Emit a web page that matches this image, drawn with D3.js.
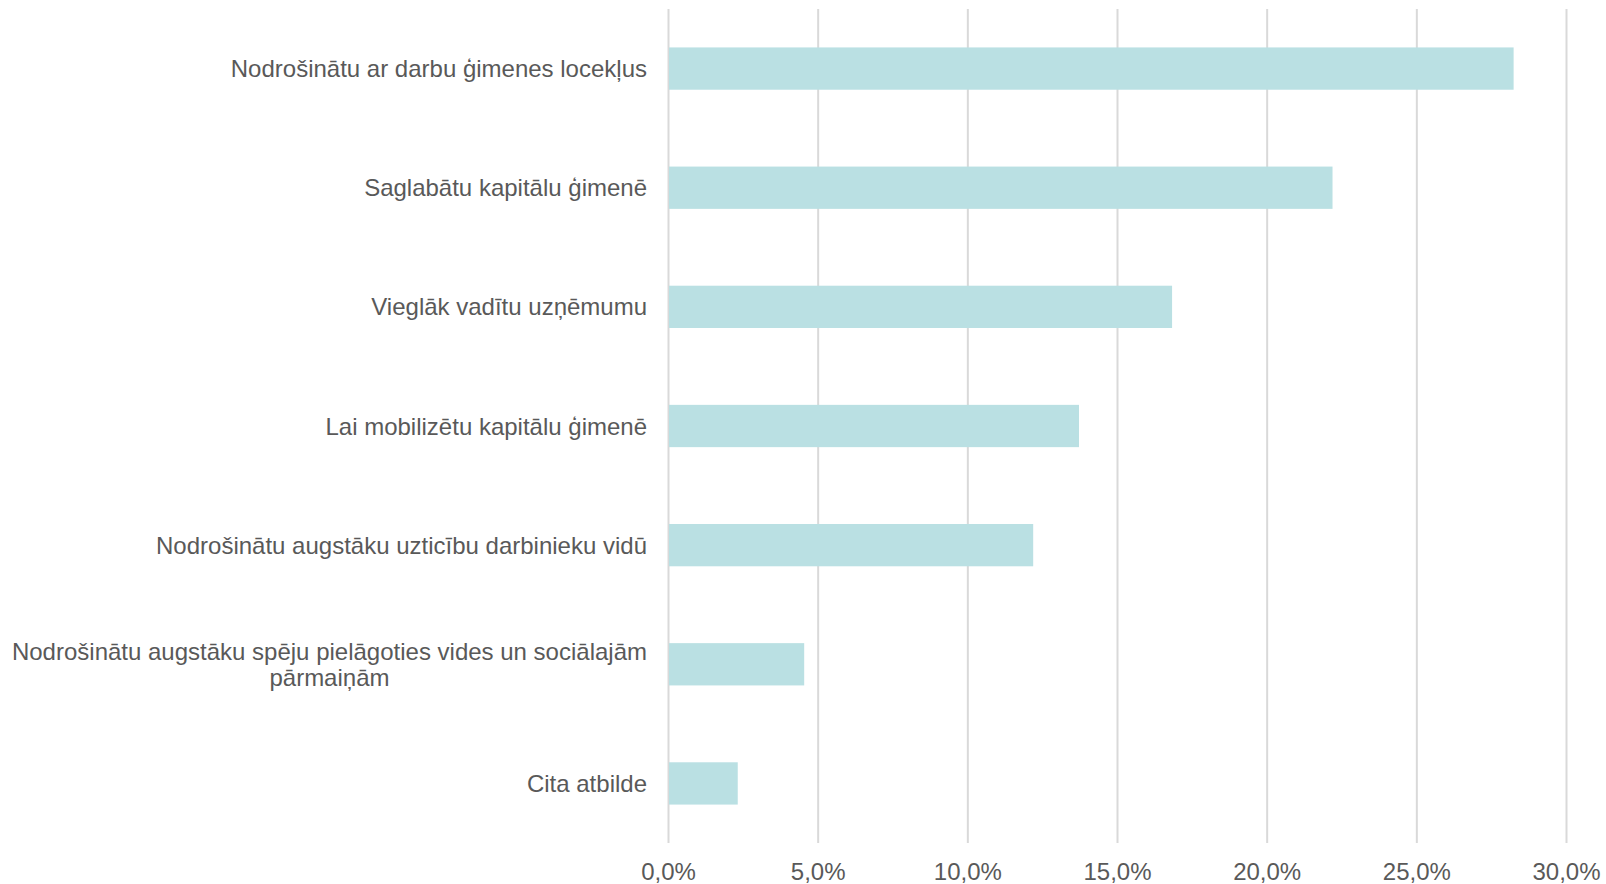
<!DOCTYPE html>
<html>
<head>
<meta charset="utf-8">
<script src="https://cdn.jsdelivr.net/npm/d3@7/dist/d3.min.js"></script>
<style>
    html, body { margin: 0; padding: 0; background: #fff; }
    svg { display: block; }
    .cat-label, .tick-label { font-family: "Liberation Sans", Arial, sans-serif; fill: #595959; }
</style>
</head>
<body>
<svg id="chart" width="1606" height="884"></svg>
<script>
/*global d3*/
var categories = [
    ['Nodrošinātu ar darbu ģimenes locekļus'],
    ['Saglabātu kapitālu ģimenē'],
    ['Vieglāk vadītu uzņēmumu'],
    ['Lai mobilizētu kapitālu ģimenē'],
    ['Nodrošinātu augstāku uzticību darbinieku vidū'],
    ['Nodrošinātu augstāku spēju pielāgoties vides un sociālajām', 'pārmaiņām'],
    ['Cita atbilde']
];
var values = [28.25, 22.2, 16.84, 13.73, 12.2, 4.55, 2.33];
var tickValues = [0, 5, 10, 15, 20, 25, 30];

(function () {
    'use strict';

    var BAR_COLOR = '#bae0e3',
        GRID_COLOR = '#d9d9d9',
        left = 668,
        right = 1566,
        top = 9,
        bottom = 843,
        svg = d3.select('#chart'),
        locale = d3.formatLocale({ decimal: ',', thousands: ' ', grouping: [3], currency: ['', ''] }),
        fmt = locale.format('.1f'),
        x = d3.scaleLinear().domain([0, 30]).range([left, right]),
        y = d3.scaleBand()
            .domain(d3.range(categories.length))
            .range([top, bottom])
            .paddingInner(0.645)
            .paddingOuter(0.3225),
        axis = d3.axisBottom(x)
            .tickValues(tickValues)
            .tickSize(-(bottom - top))
            .tickFormat(function (d) { return fmt(d) + '%'; }),
        axisGroup;

    axisGroup = svg.append('g')
        .attr('transform', 'translate(0,' + bottom + ')')
        .call(axis);
    axisGroup.select('.domain').remove();
    axisGroup.selectAll('.tick line')
        .attr('stroke', GRID_COLOR)
        .attr('stroke-width', 2);
    axisGroup.selectAll('.tick text')
        .attr('class', 'tick-label')
        .attr('y', 37)
        .attr('dy', 0)
        .style('font-size', '24px');

    svg.append('g')
        .selectAll('rect')
        .data(values)
        .enter()
        .append('rect')
        .attr('x', x(0) + 1)
        .attr('y', function (d, i) { return y(i); })
        .attr('width', function (d) { return x(d) - x(0) - 1; })
        .attr('height', y.bandwidth())
        .attr('fill', BAR_COLOR);

    // category labels: right-aligned block, wrapped lines centred inside it
    categories.forEach(function (lines, i) {
        var cy = y(i) + y.bandwidth() / 2,
            lineHeight = 26,
            g = svg.append('g'),
            texts,
            maxWidth = 0;
        texts = g.selectAll('text')
            .data(lines)
            .enter()
            .append('text')
            .attr('class', 'cat-label')
            .style('font-size', '24px')
            .attr('text-anchor', 'middle')
            .attr('dominant-baseline', 'central')
            .attr('y', function (d, j) { return cy + (j - (lines.length - 1) / 2) * lineHeight; })
            .text(function (d) { return d; });
        texts.each(function () {
            maxWidth = Math.max(maxWidth, this.getComputedTextLength());
        });
        texts.attr('x', left - 21 - maxWidth / 2);
    });
}());
</script>
</body>
</html>
